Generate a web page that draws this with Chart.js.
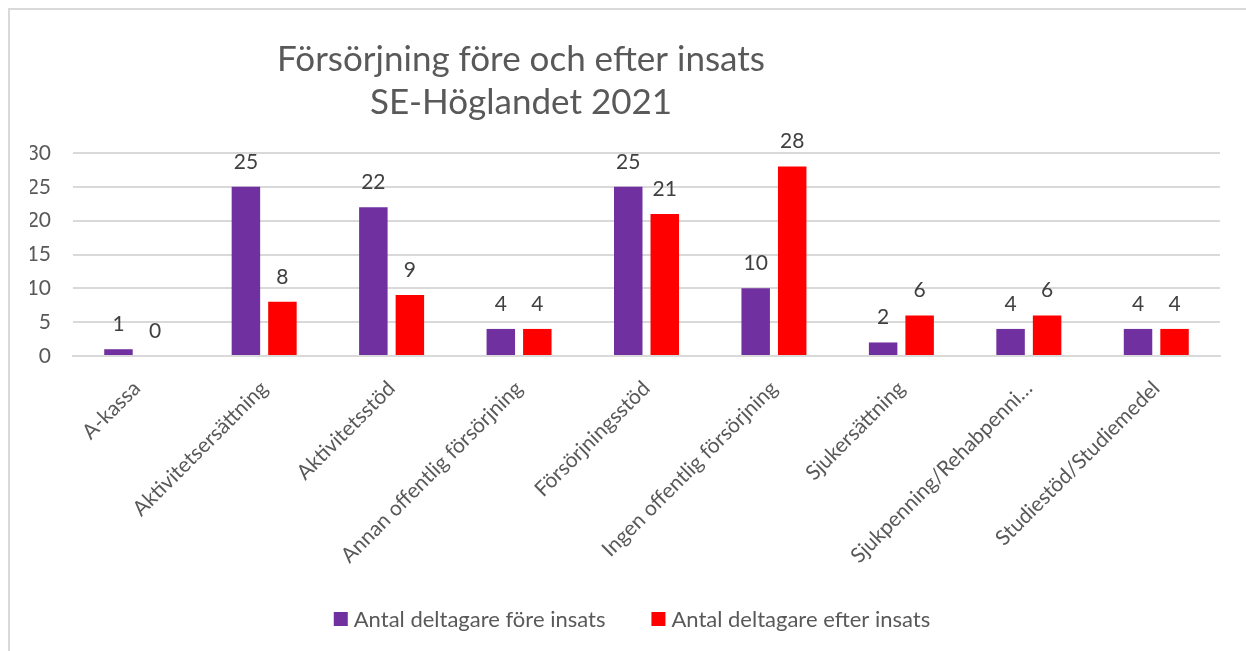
<!DOCTYPE html>
<html lang="sv">
<head>
  <meta charset="UTF-8" />
  <title>Försörjning före och efter insats</title>
  <script src="https://cdn.jsdelivr.net/npm/chart.js"></script>
  <style>
    html, body { margin: 0; padding: 0; background: #fff; overflow: hidden; }
    .wrap { position: relative; width: 1246px; height: 651px; }
  </style>
</head>
<body>
  <div class="wrap">
    <canvas id="insatsChart" width="1246" height="651"></canvas>
  </div>

  <script>
    // data
    const categories = ['A-kassa', 'Aktivitetsersättning', 'Aktivitetsstöd', 'Annan offentlig försörjning',
      'Försörjningsstöd', 'Ingen offentlig försörjning', 'Sjukersättning', 'Sjukpenning/Rehabpenni…',
      'Studiestöd/Studiemedel'];
    const foreInsats = [1, 25, 22, 4, 25, 10, 2, 4, 4];
    const efterInsats = [0, 8, 9, 4, 21, 28, 6, 6, 4];
    const yTicks = [0, 5, 10, 15, 20, 25, 30];
    const titleLines = ['Försörjning före och efter insats', 'SE-Höglandet 2021'];

    const FONT = 'Lato, "Open Sans", sans-serif';
    const GREY = '#595959';

    // border, title, legend and value labels
    const decor = {
      id: 'decor',
      beforeDraw(chart) {
        const ctx = chart.ctx;
        ctx.save();
        ctx.fillStyle = '#fff';
        ctx.fillRect(0, 0, chart.width, chart.height);
        ctx.strokeStyle = '#d9d9d9';
        ctx.lineWidth = 2;
        ctx.beginPath();
        ctx.moveTo(9, chart.height);
        ctx.lineTo(9, 9);
        ctx.lineTo(chart.width, 9);
        ctx.stroke();
        ctx.restore();
      },
      afterDraw(chart) {
        const ctx = chart.ctx;
        ctx.save();
        ctx.fillStyle = GREY;
        ctx.font = '35px ' + FONT;
        ctx.textAlign = 'center';
        ctx.textBaseline = 'middle';
        titleLines.forEach((t, i) => ctx.fillText(t, 521, 60 + i * 43));

        // legend
        ctx.font = '22px ' + FONT;
        ctx.textAlign = 'left';
        const sets = chart.data.datasets;
        const widths = sets.map(ds => 14 + 6 + ctx.measureText(ds.label).width);
        let x = 632 - (widths.reduce((a, b) => a + b, 0) + 46 * (sets.length - 1)) / 2;
        sets.forEach((ds, i) => {
          ctx.fillStyle = ds.backgroundColor;
          ctx.fillRect(x, 612, 14, 14);
          ctx.fillStyle = GREY;
          ctx.fillText(ds.label, x + 20, 620);
          x += widths[i] + 46;
        });
        ctx.restore();
      },
      afterDatasetsDraw(chart) {
        const ctx = chart.ctx;
        ctx.save();
        ctx.fillStyle = '#404040';
        ctx.font = '21px ' + FONT;
        ctx.textAlign = 'center';
        ctx.textBaseline = 'middle';
        chart.data.datasets.forEach((ds, i) => {
          chart.getDatasetMeta(i).data.forEach((bar, j) => {
            ctx.fillText(ds.data[j], bar.x, bar.y - 25);
          });
        });
        ctx.restore();
      }
    };

    const ctx = document.getElementById('insatsChart').getContext('2d');
    new Chart(ctx, {
      type: 'bar',
      data: {
        labels: categories,
        datasets: [{
          label: 'Antal deltagare före insats',
          data: foreInsats,
          backgroundColor: '#7030a0'
        }, {
          label: 'Antal deltagare efter insats',
          data: efterInsats,
          backgroundColor: '#ff0000'
        }]
      },
      options: {
        responsive: false,
        animation: false,
        categoryPercentage: 0.573,
        barPercentage: 0.78,
        layout: { padding: { top: 153, left: 30, right: 26, bottom: 0 } },
        scales: {
          y: {
            min: 0,
            max: 30,
            afterBuildTicks(scale) { scale.ticks = yTicks.map(v => ({ value: v })); },
            afterFit(scale) { scale.width = 43; },
            border: { display: false },
            grid: { color: '#d9d9d9', lineWidth: 2, drawTicks: false },
            ticks: { color: GREY, font: { family: FONT, size: 21 }, padding: 22 }
          },
          x: {
            afterFit(scale) { scale.height = 295; },
            border: { color: '#d9d9d9', width: 2 },
            grid: { display: false },
            ticks: {
              color: GREY,
              font: { family: FONT, size: 21 },
              minRotation: 45,
              maxRotation: 45,
              autoSkip: false,
              padding: 12
            }
          }
        },
        plugins: {
          legend: { display: false },
          tooltip: { enabled: false }
        }
      },
      plugins: [decor]
    });
  </script>
</body>
</html>
